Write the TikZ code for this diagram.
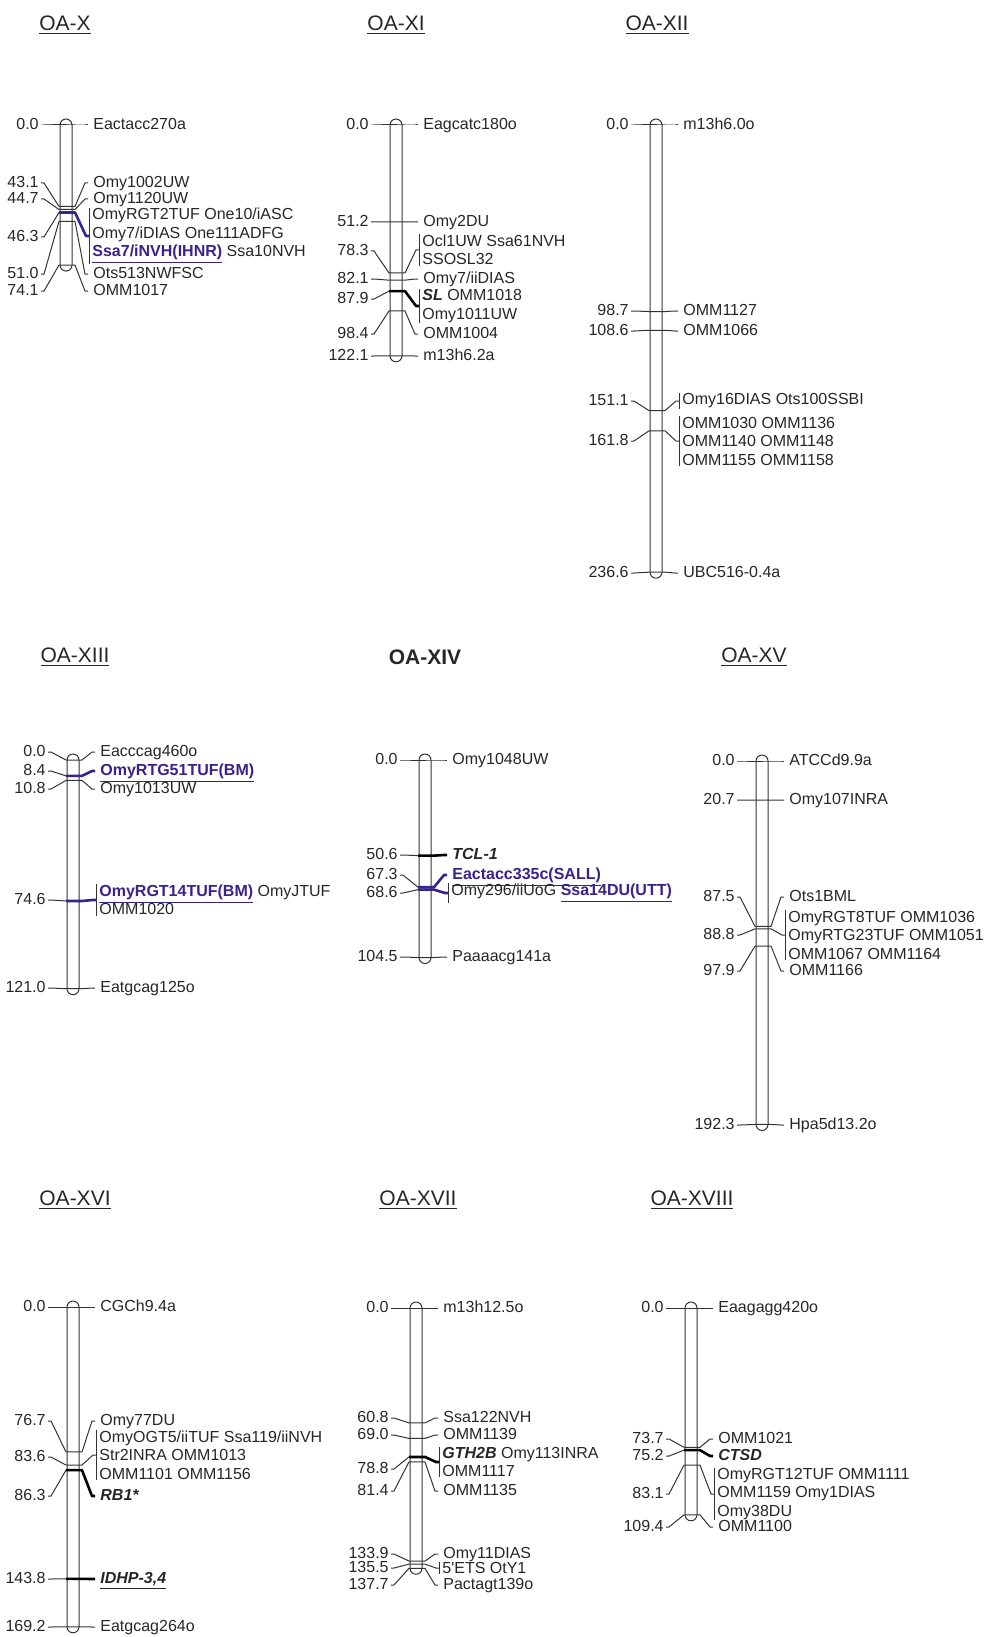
\documentclass[tikz,border=0pt]{standalone}
\usepackage{fontspec}
\setmainfont{Liberation Sans}
\definecolor{qtlblue}{RGB}{58,34,140}
\newcommand{\qtl}[1]{{\color{qtlblue}\bfseries\underline{#1}}}
\newcommand{\trait}[1]{\textbf{\textit{#1}}}
\tikzset{
  tube/.style={draw=black!80, line width=0.5pt, rounded corners=3pt},
  cmlab/.style={anchor=east, inner xsep=1pt, inner ysep=0pt, text height=5.8pt, text depth=1.7pt, text=black!85},
  mname/.style={anchor=west, inner xsep=2.5pt, inner ysep=0pt, text height=5.8pt, text depth=1.7pt, text=black!85},
  mgroup/.style={anchor=west, inner xsep=0pt, inner ysep=0.5pt, align=left, text=black!85},
  link/.style={draw=black!80, line width=0.5pt},
  heavy/.style={draw=black, line width=1.3pt, line join=round},
  qlink/.style={draw=qtlblue, line width=1.3pt, line join=round},
  title/.style={font=\fontsize{10.5}{12}\selectfont, text=black!85}
}
% current chromosome: centre x, y of 0.0 cM
\newcommand{\setchr}[2]{\def\cx{#1}\def\cy{#2}}
\newcommand{\chrom}[1]{%
  \pgfmathsetmacro\cend{\cy+1.89*#1}
  \draw[tube] (\cx-6,\cy-6) rectangle (\cx+6,\cend+6);}
% one marker: [style] id, cM, y of label, y of name, name
\newcommand{\mkr}[6][]{%
  \pgfmathsetmacro\tky{\cy+1.89*#3}
  \node[cmlab] (#2l) at (\cx-25,#4) {#3};
  \node[mname] (#2r) at (\cx+22,#5) {#6};
  \coordinate (#2a) at (\cx-7,\tky);
  \coordinate (#2b) at (\cx+9,\tky);
  \draw[link] (#2l.east) -- ++(3,0) -- (#2a);
  \draw[link,#1] (#2a) -- (#2b) -- ([xshift=-1.5pt]#2r.west) -- (#2r.west);}
% markers at one position, names behind a bar
\newcommand{\mkg}[6][]{%
  \pgfmathsetmacro\tky{\cy+1.89*#3}
  \node[cmlab] (#2l) at (\cx-25,#4) {#3};
  \node[mgroup] (#2r) at (\cx+26,#5) {#6};
  \coordinate (#2a) at (\cx-7,\tky);
  \coordinate (#2b) at (\cx+9,\tky);
  \draw[link] ([xshift=-1.5pt,yshift=-0.5pt]#2r.north west) -- ([xshift=-1.5pt,yshift=0.5pt]#2r.south west);
  \draw[link] (#2l.east) -- ++(3,0) -- (#2a);
  \draw[link,#1] (#2a) -- (#2b) -- ([xshift=-3pt]#2r.west) -- ([xshift=-1.5pt]#2r.west);}

\begin{document}
\begin{tikzpicture}[x=0.5pt, y=-0.5pt, font=\fontsize{8}{9.25}\selectfont]
\useasboundingbox (0,0) rectangle (985,1637);

% OA-X
\setchr{66}{125}
\chrom{74.1}
\node[title] (tX) at (65,25) {\underline{OA-X}};
\mkr{Xa}{0.0}{125}{125}{Eactacc270a}
\mkr{Xb}{43.1}{183}{183}{Omy1002UW}
\mkr{Xc}{44.7}{199}{199}{Omy1120UW}
\mkg[qlink]{Xd}{46.3}{237}{236}{OmyRGT2TUF One10/iASC\\Omy7/iDIAS One111ADFG\\\qtl{Ssa7/iNVH(IHNR)} Ssa10NVH}
\mkr{Xe}{51.0}{274}{274}{Ots513NWFSC}
\mkr{Xf}{74.1}{291}{291}{OMM1017}

% OA-XI
\setchr{396}{125}
\chrom{122.1}
\node[title] (tXI) at (396,25) {\underline{OA-XI}};
\mkr{XIa}{0.0}{125}{125}{Eagcatc180o}
\mkr{XIb}{51.2}{222}{222}{Omy2DU}
\mkg{XIc}{78.3}{251}{250}{Ocl1UW Ssa61NVH\\SSOSL32}
\mkr{XId}{82.1}{279}{279}{Omy7/iiDIAS}
\mkg[heavy]{XIe}{87.9}{299}{306}{\trait{SL} OMM1018\\Omy1011UW}
\mkr{XIf}{98.4}{334}{334}{OMM1004}
\mkr{XIg}{122.1}{356}{356}{m13h6.2a}

% OA-XII
\setchr{656}{125}
\chrom{236.6}
\node[title] (tXII) at (657,25) {\underline{OA-XII}};
\mkr{XIIa}{0.0}{125}{125}{m13h6.0o}
\mkr{XIIb}{98.7}{311}{311}{OMM1127}
\mkr{XIIc}{108.6}{331}{331}{OMM1066}
\mkg{XIId}{151.1}{401}{401}{Omy16DIAS Ots100SSBI}
\mkg{XIIe}{161.8}{441}{441}{OMM1030 OMM1136\\OMM1140 OMM1148\\OMM1155 OMM1158}
\mkr{XIIf}{236.6}{573}{573}{UBC516-0.4a}

% OA-XIII
\setchr{73}{760}
\chrom{121.0}
\node[title] (tXIII) at (75,657) {\underline{OA-XIII}};
\mkr{XIIIa}{0.0}{752}{752}{Eacccag460o}
\mkr[qlink]{XIIIb}{8.4}{771}{771}{\qtl{OmyRTG51TUF(BM)}}
\mkr{XIIIc}{10.8}{789}{789}{Omy1013UW}
\mkg[qlink]{XIIId}{74.6}{900}{900}{\qtl{OmyRGT14TUF(BM)} OmyJTUF\\OMM1020}
\mkr{XIIIe}{121.0}{988}{988}{Eatgcag125o}

% OA-XIV
\setchr{425}{760}
\chrom{104.5}
\node[title] (tXIV) at (425,657) {\textbf{OA-XIV}};
\mkr{XIVa}{0.0}{760}{760}{Omy1048UW}
\mkr[heavy]{XIVb}{50.6}{855}{855}{\trait{TCL-1}}
\mkr[qlink]{XIVc}{67.3}{875}{875}{\qtl{Eactacc335c(SALL)}}
\mkg[qlink]{XIVd}{68.6}{893}{893}{Omy296/iiUoG \qtl{Ssa14DU(UTT)}}
\mkr{XIVe}{104.5}{957}{957}{Paaaacg141a}

% OA-XV
\setchr{762}{761}
\chrom{192.3}
\node[title] (tXV) at (754,657) {\underline{OA-XV}};
\mkr{XVa}{0.0}{761}{761}{ATCCd9.9a}
\mkr{XVb}{20.7}{800}{800}{Omy107INRA}
\mkr{XVc}{87.5}{897}{897}{Ots1BML}
\mkg{XVd}{88.8}{935}{935}{OmyRGT8TUF OMM1036\\OmyRTG23TUF OMM1051\\OMM1067 OMM1164}
\mkr{XVe}{97.9}{971}{971}{OMM1166}
\mkr{XVf}{192.3}{1125}{1125}{Hpa5d13.2o}

% OA-XVI
\setchr{73}{1307}
\chrom{169.2}
\node[title] (tXVI) at (75,1200) {\underline{OA-XVI}};
\mkr{XVIa}{0.0}{1307}{1307}{CGCh9.4a}
\mkr{XVIb}{76.7}{1421}{1421}{Omy77DU}
\mkg{XVIc}{83.6}{1457}{1455}{OmyOGT5/iiTUF Ssa119/iiNVH\\Str2INRA OMM1013\\OMM1101 OMM1156}
\mkr[heavy]{XVId}{86.3}{1496}{1496}{\trait{RB1*}}
\mkr[heavy]{XVIe}{143.8}{1579}{1579}{\underline{\trait{IDHP-3,4}}}
\mkr{XVIf}{169.2}{1627}{1627}{Eatgcag264o}

% OA-XVII
\setchr{416}{1308}
\chrom{137.7}
\node[title] (tXVII) at (418,1200) {\underline{OA-XVII}};
\mkr{XVIIa}{0.0}{1308}{1308}{m13h12.5o}
\mkr{XVIIb}{60.8}{1418}{1418}{Ssa122NVH}
\mkr{XVIIc}{69.0}{1435}{1435}{OMM1139}
\mkg[heavy]{XVIId}{78.8}{1469}{1462}{\trait{GTH2B} Omy113INRA\\OMM1117}
\mkr{XVIIe}{81.4}{1491}{1491}{OMM1135}
\mkr{XVIIf}{133.9}{1554}{1554}{Omy11DIAS}
\mkg{XVIIg}{135.5}{1568}{1568}{5\textquotesingle ETS OtY1}
\mkr{XVIIh}{137.7}{1585}{1585}{Pactagt139o}

% OA-XVIII
\setchr{691}{1308}
\chrom{109.4}
\node[title] (tXVIII) at (692,1200) {\underline{OA-XVIII}};
\mkr{XVIIIa}{0.0}{1308}{1308}{Eaagagg420o}
\mkr{XVIIIb}{73.7}{1439}{1439}{OMM1021}
\mkr[heavy]{XVIIIc}{75.2}{1456}{1456}{\trait{CTSD}}
\mkg{XVIIId}{83.1}{1494}{1494}{OmyRGT12TUF OMM1111\\OMM1159 Omy1DIAS\\Omy38DU}
\mkr{XVIIIe}{109.4}{1527}{1527}{OMM1100}
\end{tikzpicture}
\end{document}
